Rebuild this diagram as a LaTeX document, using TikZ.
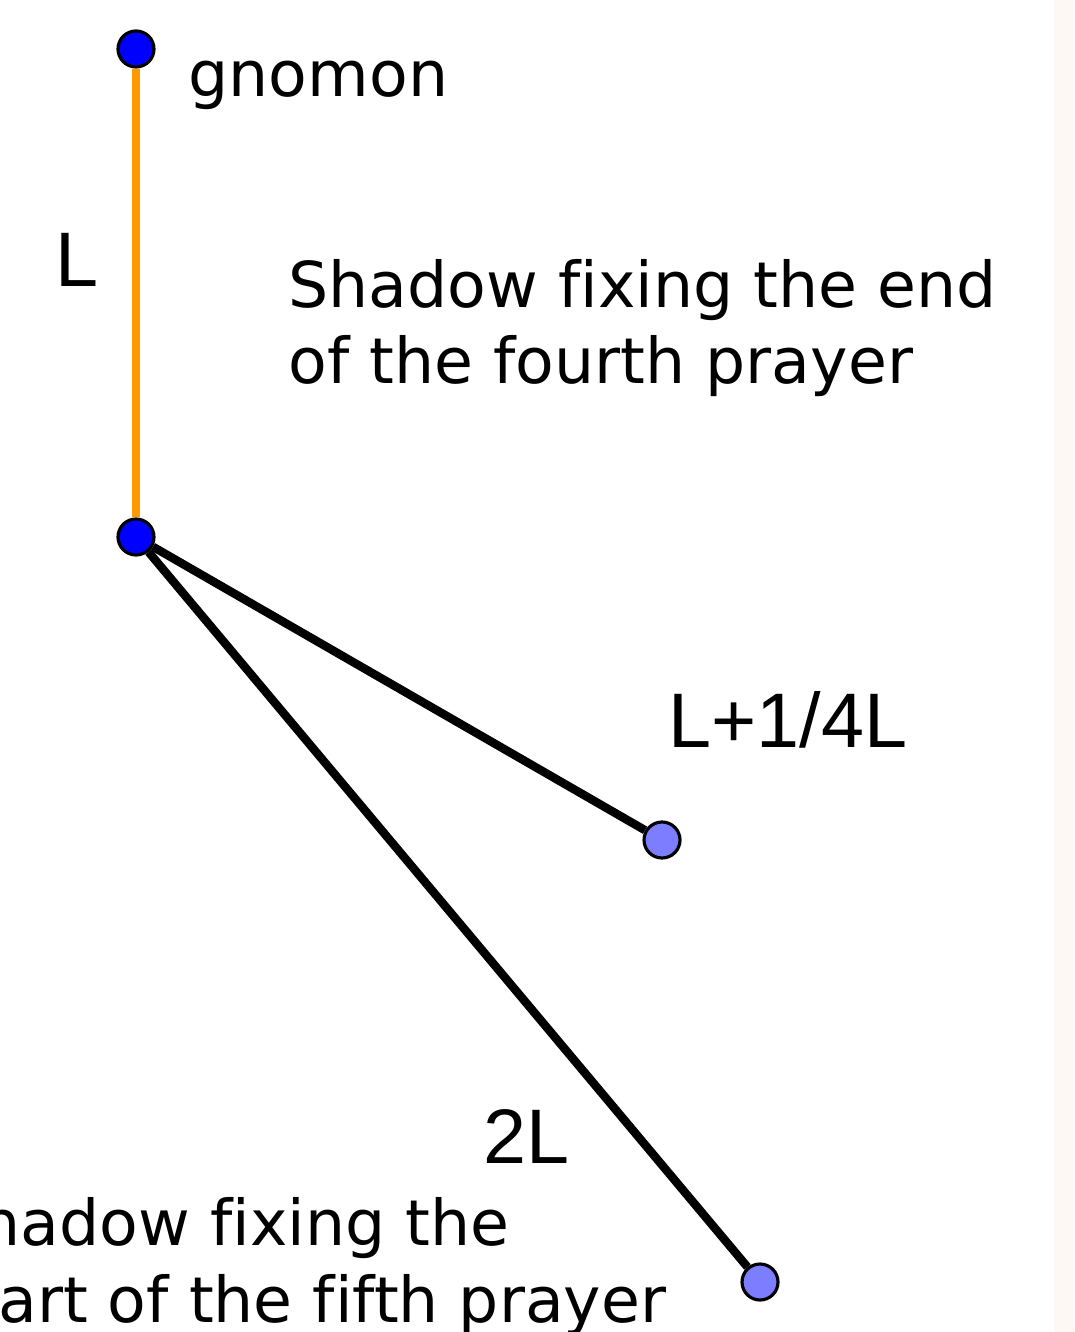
\documentclass[tikz,border=0pt]{standalone}
\usepackage{fontspec}
\setmainfont{DejaVu Sans}[Ligatures=NoCommon]
\newfontfamily\labelfont{Liberation Sans}
\usepackage{tikz}
\usepackage{xcolor}

\begin{document}
\begin{tikzpicture}[
  pointdot/.style={circle, draw=black, line width=0.9pt, minimum size=0.36cm, inner sep=0pt},
  gnomonline/.style={gnomonorange, line width=2.3pt},
  shadowline/.style={black, line width=2.4pt},
  lengthlabel/.style={font=\labelfont\fontsize{22}{26}\selectfont, inner sep=0pt, anchor=base west},
  caption/.style={font=\fontsize{18}{21.9}\selectfont, align=left, inner sep=0pt}
]
% Define colors
\definecolor{gnomonorange}{RGB}{255,153,0}
\definecolor{fixedblue}{RGB}{0,0,255}
\definecolor{tipblue}{RGB}{125,125,255}
\definecolor{stripbg}{RGB}{253,248,244}

% Frame and clipping
\useasboundingbox (0,0) rectangle (10.74,-13.32);
\clip (0,0) rectangle (10.74,-13.32);
\fill[white] (0,0) rectangle (10.74,-13.32);
\fill[stripbg] (10.54,0) rectangle (10.74,-13.32);

% Points
\node[pointdot, fill=fixedblue] (top) at (1.36,-0.49) {};
\node[pointdot, fill=fixedblue] (base) at (1.36,-5.37) {};
\node[pointdot, fill=tipblue] (quarter) at (6.62,-8.40) {};
\node[pointdot, fill=tipblue] (double) at (7.60,-12.82) {};

% Gnomon and shadows
\draw[gnomonline] (top) -- (base);
\draw[shadowline] (base) -- (quarter);
\draw[shadowline] (base) -- (double);

% Labels
\node[caption, anchor=base west] (gnomon) at (1.88,-0.97) {gnomon};
\node[lengthlabel] (lenL) at (0.55,-2.87) {L};
\node[lengthlabel] (lenquarter) at (6.68,-7.47) {L+1/4L};
\node[lengthlabel] (lendouble) at (4.83,-11.63) {2L};

% Prayer captions
\node[caption, anchor=base west] (fourth) at (2.88,-3.84) {Shadow fixing the end\\of the fourth prayer};
\node[caption, anchor=base east] (fifth) at (6.67,-13.22) {Shadow fixing the\\start of the fifth prayer};

\end{tikzpicture}
\end{document}
